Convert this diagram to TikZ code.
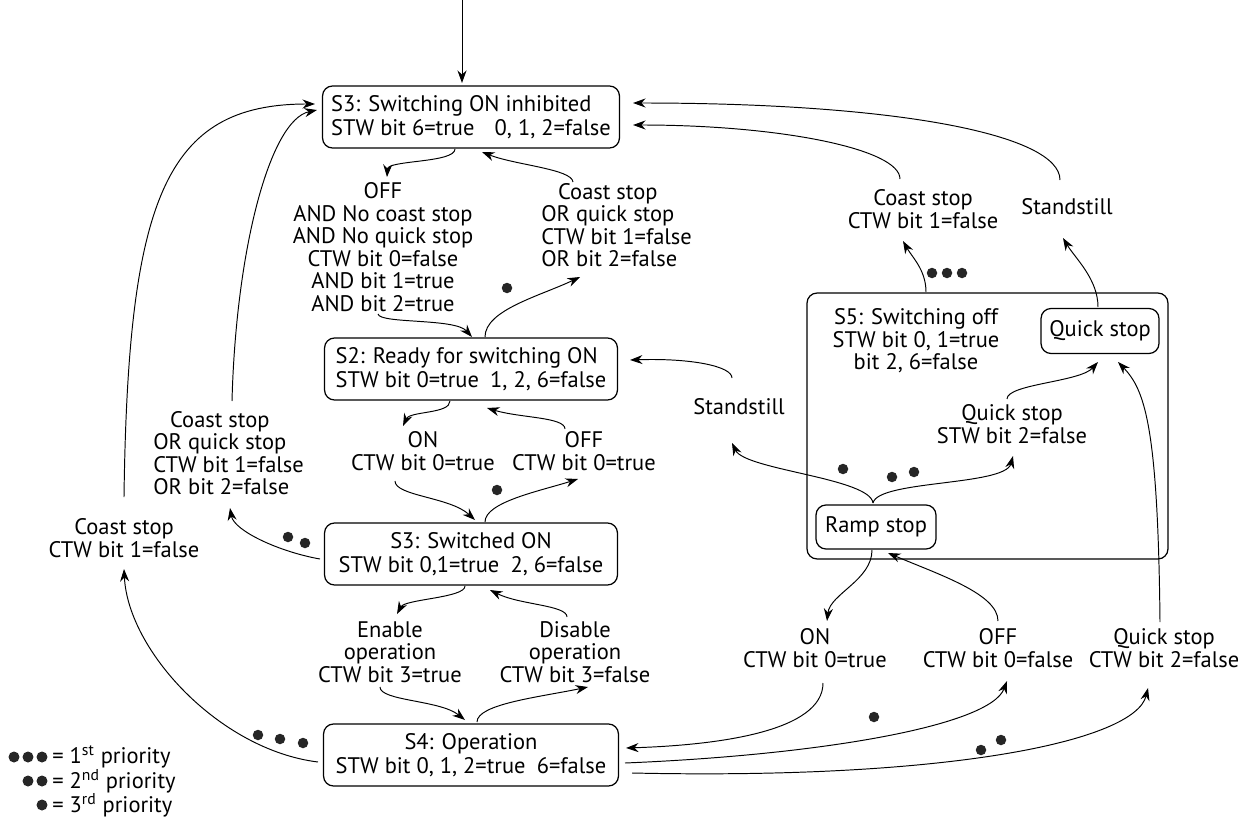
\documentclass[tikz,border=0pt]{standalone}
\usepackage{fontspec}
\usepackage{calc}
\setmainfont{PT Sans}
\usetikzlibrary{arrows.meta,calc}
\newcommand{\lblfont}{\fontsize{12.8}{12.8}\selectfont}
\newcommand{\boxfont}{\fontsize{12.8}{13.6}\selectfont}
\newcommand{\csline}{\makebox[\widthof{OR quick stop}]{Coast stop}}
\tikzset{
  box/.style={draw, rounded corners=0.2cm, line width=0.7pt, inner sep=0pt, font=\boxfont},
  lbl/.style={inner sep=0pt, align=center, font=\lblfont},
  arr/.style={-{Stealth[length=2.5mm,width=1.8mm]}, line width=0.55pt},
  pdot/.style={fill=black!85}
}
\begin{document}
\begin{tikzpicture}[x=0.02cm,y=-0.02cm]
\useasboundingbox (0,0) rectangle (1251,821);

% state boxes
\node[box, minimum width=5.94cm, minimum height=1.24cm, align=left] (s3inh) at (471,117)
  {S3: Switching ON inhibited\\STW bit 6=true\hspace{0.9em}0, 1, 2=false};
\node[box, minimum width=5.86cm, minimum height=1.24cm, align=left] (s2) at (471,369)
  {S2: Ready for switching ON\\STW bit 0=true\hspace{0.5em}1, 2, 6=false};
\node[box, minimum width=5.86cm, minimum height=1.24cm, align=center] (s3sw) at (471,554)
  {S3: Switched ON\\STW bit 0,1=true\hspace{0.5em}2, 6=false};
\node[box, minimum width=5.9cm, minimum height=1.24cm, align=center] (s4) at (471,755)
  {S4: Operation\\STW bit 0, 1, 2=true\hspace{0.5em}6=false};
\node[box, minimum width=7.22cm, minimum height=5.32cm] (s5) at (987.5,426) {};
\node[lbl] (s5t) at (916,341) {S5: Switching off\\STW bit 0, 1=true\\bit 2, 6=false};
\node[box, minimum width=2.36cm, minimum height=0.9cm] (qs) at (1100,331) {Quick stop};
\node[box, minimum width=2.4cm, minimum height=0.88cm] (rs) at (876,527) {Ramp stop};

% labels
\node[lbl] (lOff) at (383,247) {OFF\\AND No coast stop\\AND No quick stop\\CTW bit 0=false\\AND bit 1=true\\AND bit 2=true};
\node[lbl, anchor=west, align=left] (lCoast1) at (541,225) {\csline\\OR quick stop\\CTW bit 1=false\\OR bit 2=false};
\node[lbl] (lOn1) at (423,451) {ON\\CTW bit 0=true};
\node[lbl] (lOff1) at (584,451) {OFF\\CTW bit 0=true};
\node[lbl, anchor=west, align=left] (lCoast2) at (153,453) {\csline\\OR quick stop\\CTW bit 1=false\\OR bit 2=false};
\node[lbl] (lCoast3) at (124,538) {Coast stop\\CTW bit 1=false};
\node[lbl] (lEnable) at (390,652) {Enable\\operation\\CTW bit 3=true};
\node[lbl] (lDisable) at (575,652) {Disable\\operation\\CTW bit 3=false};
\node[lbl] (lOn2) at (815,648) {ON\\CTW bit 0=true};
\node[lbl] (lOff2) at (998,648) {OFF\\CTW bit 0=false};
\node[lbl] (lQs2) at (1164,648) {Quick stop\\CTW bit 2=false};
\node[lbl] (lStand1) at (739,407) {Standstill};
\node[lbl] (lQs1) at (1012,424) {Quick stop\\STW bit 2=false};
\node[lbl] (lCoast4) at (923,209) {Coast stop\\CTW bit 1=false};
\node[lbl] (lStand2) at (1067,207) {Standstill};

% legend
\node[lbl, anchor=west] (leg1) at (52,757) {= 1\textsuperscript{st} priority};
\node[lbl, anchor=west] (leg2) at (52,781) {= 2\textsuperscript{nd} priority};
\node[lbl, anchor=west] (leg3) at (52,805) {= 3\textsuperscript{rd} priority};
\foreach \dx in {-38,-24,-10} \fill[pdot] ($(leg1.west)+(\dx,0)$) circle (0.11cm);
\foreach \dx in {-24,-10} \fill[pdot] ($(leg2.west)+(\dx,0)$) circle (0.11cm);
\fill[pdot] ($(leg3.west)+(-10,0)$) circle (0.11cm);

% entry
\coordinate (entry) at (462,0);
\draw[arr] (entry) -- ($(s3inh.center)+(-9,-34)$);

% S3 inhibited <-> S2
\draw[arr] ($(s3inh.center)+(-16,32)$) .. controls +(0,14) and +(1,-17) .. ($(lOff.center)+(4,-70)$);
\draw[arr] ($(lOff.center)+(-5,67)$) .. controls +(2,10) and +(-17,-19) .. ($(s2.center)+(1,-32)$);
\draw[arr] ($(s2.center)+(14,-32)$) .. controls +(0,-27) and +(-40,19) .. ($(lCoast1.west)+(39,52)$);
\draw[arr] ($(lCoast1.west)+(32,-43)$) .. controls +(-1,-13) and +(33,13) .. ($(s3inh.center)+(11,35)$);

% S2 <-> S3 switched on
\draw[arr] ($(s2.center)+(-21,32)$) .. controls +(0,13) and +(7,-15) .. ($(lOn1.center)+(-20,-25)$);
\draw[arr] ($(lOn1.center)+(-28,30)$) .. controls +(0,15) and +(-25,-23) .. ($(s3sw.center)+(4,-34)$);
\draw[arr] ($(s3sw.center)+(14,-32)$) .. controls +(0,-20) and +(-38,12) .. ($(lOff1.center)+(-6,28)$);
\draw[arr] ($(lOff1.center)+(-19,-22)$) .. controls +(0,-12) and +(33,10) .. ($(s2.center)+(16,39)$);

% S3 switched on -> S3 inhibited (left)
\draw[arr] ($(s3sw.center)+(-151,5)$) .. controls +(-40,-7) and +(4,23) .. ($(lCoast2.west)+(77,55)$);
\draw[arr] ($(lCoast2.west)+(79,-52)$) .. controls +(4,-152) and +(-47,10) .. ($(s3inh.center)+(-154,-7)$);

% S4 -> S3 inhibited (far left)
\draw[arr] ($(s4.center)+(-153,7)$) .. controls +(-98,-12) and +(4,82) .. ($(lCoast3.center)+(0,31)$);
\draw[arr] ($(lCoast3.center)+(0,-41)$) .. controls +(4,-298) and +(-150,0) .. ($(s3inh.center)+(-156,-13)$);

% S3 switched on <-> S4
\draw[arr] ($(s3sw.center)+(-6,32)$) .. controls +(0,12) and +(8,-15) .. ($(lEnable.center)+(7,-38)$);
\draw[arr] ($(lEnable.center)+(-10,35)$) .. controls +(0,14) and +(-25,-20) .. ($(s4.center)+(-6,-35)$);
\draw[arr] ($(s4.center)+(6,-33)$) .. controls +(0,-18) and +(-48,10) .. ($(lDisable.center)+(13,35)$);
\draw[arr] ($(lDisable.center)+(-8,-35)$) .. controls +(0,-12) and +(30,15) .. ($(s3sw.center)+(19,36)$);

% S4 <-> S5
\draw[arr] ($(lOn2.center)+(8,35)$) .. controls +(0,48) and +(94,-3) .. ($(s4.center)+(155,-7)$);
\draw[arr] ($(s4.center)+(154,8)$) .. controls +(195,-8) and +(-17,45) .. ($(lOff2.center)+(9,33)$);
\draw[arr] ($(s4.center)+(161,18)$) .. controls +(318,7) and +(-13,53) .. ($(lQs2.center)+(-16,40)$);
\draw[arr] ($(rs.center)+(-4,23)$) .. controls +(0,30) and +(3,-27) .. ($(lOn2.center)+(12,-27)$);
\draw[arr] ($(lOff2.center)+(0,-27)$) .. controls +(0,-27) and +(52,22) .. ($(rs.center)+(12,26)$);
\draw[arr] ($(lQs2.center)+(-4,-26)$) .. controls +(-2,-195) and +(27,28) .. ($(qs.center)+(18,31)$);

% inside S5
\draw[arr] ($(rs.center)+(-3,-24)$) .. controls +(-3,-25) and +(13,27) .. ($(lStand1.center)+(-7,36)$);
\draw[arr] ($(lStand1.center)+(-7,-29)$) .. controls +(0,-12) and +(60,-2) .. ($(s2.center)+(159,-9)$);
\draw[arr] ($(rs.center)+(-3,-24)$) .. controls +(5,-23) and +(-8,30) .. ($(lQs1.center)+(1,32)$);
\draw[arr] ($(lQs1.center)+(-5,-25)$) .. controls +(0,-15) and +(-18,20) .. ($(qs.center)+(-2,31)$);

% S5 -> S3 inhibited (top right)
\draw[arr] ($(s5.center)+(-61.5,-134)$) .. controls +(0,-22) and +(9,16) .. ($(lCoast4.center)+(-20,32)$);
\draw[arr] ($(lCoast4.center)+(-23,-30)$) .. controls +(0,-30) and +(147,0) .. ($(s3inh.center)+(162,8)$);
\draw[arr] ($(qs.center)+(-2,-24)$) .. controls +(0,-28) and +(12,20) .. ($(lStand2.center)+(-4,31)$);
\draw[arr] ($(lStand2.center)+(-7,-27)$) .. controls +(0,-45) and +(267,0) .. ($(s3inh.center)+(162,-14)$);

% priority dots
\fill[pdot] (507,288) circle (0.105cm);
\fill[pdot] (497,490) circle (0.105cm);
\fill[pdot] (288,537) circle (0.105cm);
\fill[pdot] (305,543) circle (0.105cm);
\fill[pdot] (258,735) circle (0.105cm);
\fill[pdot] (280,739) circle (0.105cm);
\fill[pdot] (303,743) circle (0.105cm);
\fill[pdot] (843,469) circle (0.105cm);
\fill[pdot] (892,477) circle (0.105cm);
\fill[pdot] (914,472) circle (0.105cm);
\fill[pdot] (932,273) circle (0.105cm);
\fill[pdot] (947,273) circle (0.105cm);
\fill[pdot] (962,273) circle (0.105cm);
\fill[pdot] (874,717) circle (0.105cm);
\fill[pdot] (981,750) circle (0.105cm);
\fill[pdot] (1001,740) circle (0.105cm);
\end{tikzpicture}
\end{document}
